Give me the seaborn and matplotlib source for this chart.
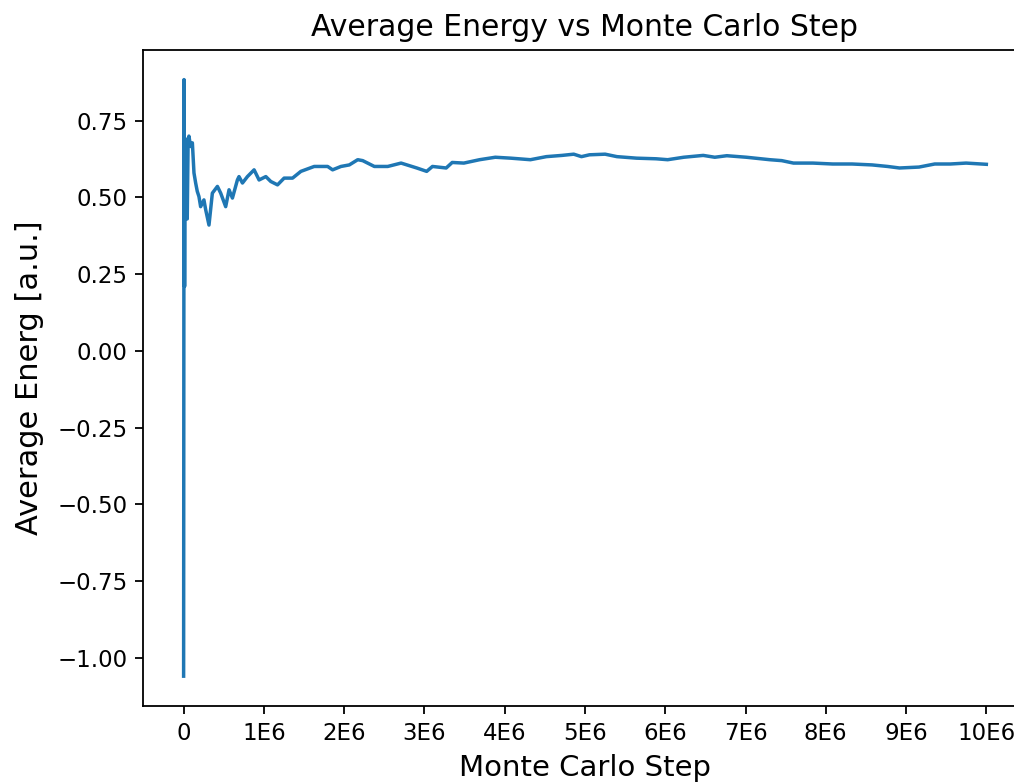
import matplotlib
matplotlib.use("Agg")
import matplotlib.pyplot as plt
import seaborn as sns
import pandas as pd

# running average of the energy
steps = [0, 5e3, 12e3, 18e3, 25e3, 33e3, 45e3, 55e3, 66e3, 87e3, 109e3, 129e3,
         150e3, 170e3, 191e3, 212e3, 253e3, 275e3, 316e3, 358e3, 421e3, 462e3,
         524e3, 566e3, 608e3, 670e3, 690e3, 733e3, 795e3, 878e3, 940e3, 1024e3,
         1086e3, 1170e3, 1252e3, 1357e3, 1461e3, 1627e3, 1794e3, 1856e3, 1960e3,
         2064e3, 2169e3, 2231e3, 2376e3, 2543e3, 2709e3, 2905e3, 3028e3, 3100e3,
         3271e3, 3346e3, 3491e3, 3687e3, 3883e3, 4077e3, 4320e3, 4519e3, 4713e3,
         4860e3, 4956e3, 5056e3, 5251e3, 5398e3, 5643e3, 5886e3, 6030e3, 6230e3,
         6473e3, 6617e3, 6767e3, 7011e3, 7303e3, 7451e3, 7597e3, 7840e3, 8086e3,
         8327e3, 8576e3, 8770e3, 8918e3, 9161e3, 9357e3, 9551e3, 9748e3, 10000e3]
energy = [-1.06, 0.884, 0.21, 0.62, 0.437, 0.69, 0.43, 0.66, 0.70, 0.666, 0.678, 0.58,
          0.547, 0.52, 0.503, 0.47, 0.492, 0.46, 0.41, 0.514, 0.536, 0.514,
          0.47, 0.525, 0.498, 0.557, 0.568, 0.547, 0.568, 0.59, 0.557, 0.568,
          0.552, 0.541, 0.563, 0.563, 0.585, 0.601, 0.601, 0.59, 0.601,
          0.606, 0.623, 0.62, 0.601, 0.601, 0.612, 0.596, 0.585, 0.601,
          0.596, 0.614, 0.612, 0.623, 0.631, 0.628, 0.623, 0.633, 0.637,
          0.641, 0.633, 0.639, 0.641, 0.633, 0.628, 0.626, 0.623, 0.631,
          0.637, 0.631, 0.636, 0.631, 0.623, 0.62, 0.612, 0.612, 0.609,
          0.609, 0.606, 0.601, 0.596, 0.599, 0.609, 0.609, 0.612, 0.608]

xtick_values = [i * 1e6 for i in range(11)]
xtick_labels = ["0"] + [f"{i}E6" for i in range(1, 11)]

df = pd.DataFrame({"step": steps, "energy": energy})

plt.rcParams["font.family"] = ["DejaVu Sans"]
plt.rcParams["xtick.major.size"] = 5.8
plt.rcParams["ytick.major.size"] = 5.8
plt.rcParams["xtick.major.width"] = 1.3
plt.rcParams["ytick.major.width"] = 1.3
plt.rcParams["xtick.major.pad"] = 5.6
plt.rcParams["ytick.major.pad"] = 5.6

fig = plt.figure(figsize=(10.14, 7.84), dpi=100)
ax = fig.add_axes([0.1415, 0.0995, 0.8708, 0.837])

sns.lineplot(data=df, x="step", y="energy", ax=ax, color="#1f77b4",
             linewidth=2.5, estimator=None, sort=False)

for s in ax.spines.values():
    s.set_linewidth(1.3)

ax.set_xticks(xtick_values)
ax.set_xticklabels(xtick_labels)
ax.set_yticks([-1.0, -0.75, -0.5, -0.25, 0.0, 0.25, 0.5, 0.75])
ax.tick_params(labelsize=16.5)

ax.set_title("Average Energy vs Monte Carlo Step", fontsize=21.5, pad=9.6)
ax.set_xlabel("Monte Carlo Step", fontsize=21, labelpad=6.4)
ax.set_ylabel("Average Energ [a.u.]", fontsize=22, labelpad=10)

fig.savefig("out.png", dpi=100)
